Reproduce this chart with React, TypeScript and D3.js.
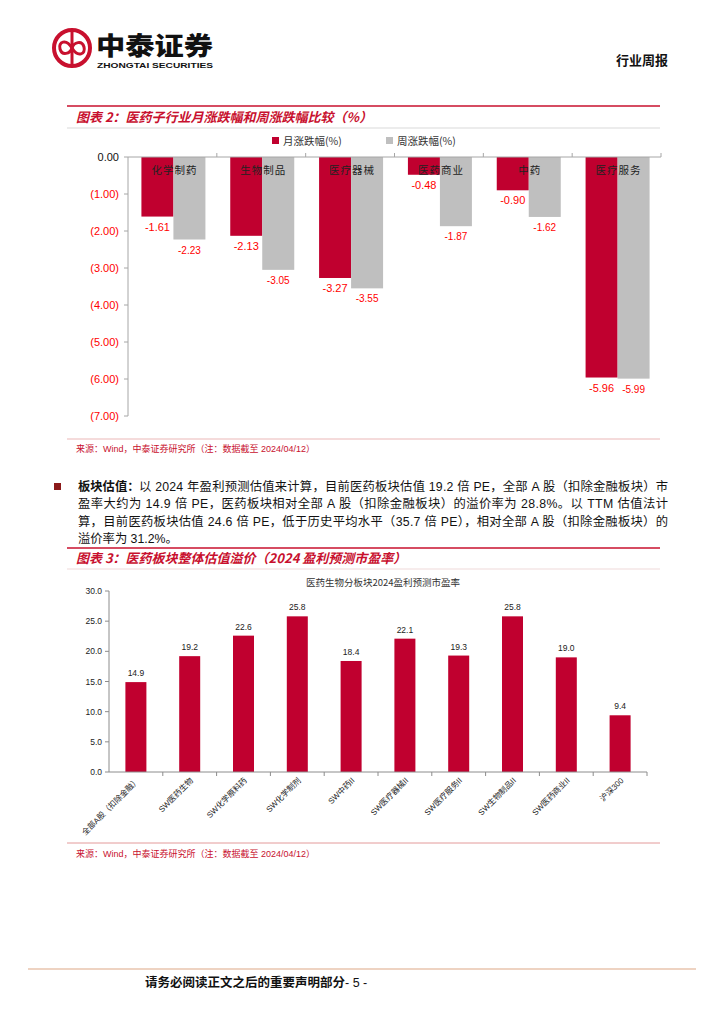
import React from 'react';
import * as d3 from 'd3';

// chart 1: sub-sector monthly / weekly change
const sectors = ['化学制药', '生物制品', '医疗器械', '医药商业', '中药', '医疗服务'];
const monthChg = [-1.61, -2.13, -3.27, -0.48, -0.9, -5.96];
const weekChg = [-2.23, -3.05, -3.55, -1.87, -1.62, -5.99];
const chgTicks = [0, -1, -2, -3, -4, -5, -6, -7];

// chart 2: 2024 forward PE
const peCats = [
  '全部A股（扣除金融）',
  'SW医药生物',
  'SW化学原料药',
  'SW化学制剂',
  'SW中药II',
  'SW医疗器械II',
  'SW医疗服务II',
  'SW生物制品II',
  'SW医药商业II',
  '沪深300',
];
const peVals = [14.9, 19.2, 22.6, 25.8, 18.4, 22.1, 19.3, 25.8, 19.0, 9.4];
const peTicks = [0, 5, 10, 15, 20, 25, 30];

const paraLines = [
  '以 2024 年盈利预测估值来计算，目前医药板块估值 19.2 倍 PE，全部 A 股（扣除金融板块）市',
  '盈率大约为 14.9 倍 PE，医药板块相对全部 A 股（扣除金融板块）的溢价率为 28.8%。以 TTM 估值法计',
  '算，目前医药板块估值 24.6 倍 PE，低于历史平均水平（35.7 倍 PE），相对全部 A 股（扣除金融板块）的',
  '溢价率为 31.2%。',
];

const RED = '#C0002F';
const GREY = '#BFBFBF';
const TITLE_RED = '#C8102E';
const FONT = '"Liberation Sans", Arial, "Noto Sans CJK SC", sans-serif';
const CJK = '"Noto Sans CJK SC", sans-serif';

const fmtNeg = (v: number) => (v === 0 ? '0.00' : `(${Math.abs(v).toFixed(2)})`);

const App: React.FC = () => {
  // chart 1 scales
  const x1 = d3.scaleBand<string>().domain(sectors).range([128, 661]);
  const y1 = d3.scaleLinear().domain([-7, 0]).range([416, 157]);
  const sub = d3.scaleBand<string>().domain(['m', 'w']).range([0, 64]);
  const pairX = (c: string) => (x1(c) || 0) + (x1.bandwidth() - 64) / 2 + 1;

  // chart 2 scales
  const x2 = d3.scaleBand<string>().domain(peCats).range([109, 647]);
  const y2 = d3.scaleLinear().domain([0, 30]).range([772, 591]);
  const bw2 = 21;

  return (
    <div style={{ position: 'absolute', left: 0, top: 0, background: '#fff' }}>
      <svg width={724} height={1024} style={{ display: 'block' }}>
        <rect width={724} height={1024} fill="#fff" />

        {/* header logo */}
        <g>
          <circle cx={72} cy={48} r={18} fill="none" stroke={TITLE_RED} strokeWidth={4} />
          <line x1={72} y1={32} x2={72} y2={64} stroke={TITLE_RED} strokeWidth={3} />
          <path d="M72,48 C66,38 58,42 60,49 C62,56 70,54 72,48 Z" fill="none" stroke={TITLE_RED} strokeWidth={3} />
          <path d="M72,48 C78,58 86,54 84,47 C82,40 74,42 72,48 Z" fill="none" stroke={TITLE_RED} strokeWidth={3} />
          <text x={96} y={55} fontFamily={CJK} fontWeight={900} fontSize={25} fill="#111" textLength={117} lengthAdjust="spacingAndGlyphs">中泰证券</text>
          <text x={97} y={68} fontFamily={FONT} fontWeight={700} fontSize={7.5} fill="#111" textLength={116} lengthAdjust="spacingAndGlyphs">ZHONGTAI SECURITIES</text>
        </g>
        <text x={668} y={65} textAnchor="end" fontFamily={CJK} fontWeight={700} fontSize={13} fill="#111">行业周报</text>

        {/* chart 1 title */}
        <line x1={67} y1={106} x2={660} y2={106} stroke={TITLE_RED} strokeWidth={1.5} />
        <text x={76} y={122} fontFamily={CJK} fontStyle="italic" fontWeight={700} fontSize={13} fill={TITLE_RED}>
          图表 2：医药子行业月涨跌幅和周涨跌幅比较（%）
        </text>
        <line x1={67} y1={128} x2={660} y2={128} stroke="#D9D9D9" strokeWidth={1} />

        {/* legend */}
        <rect x={272} y={137} width={7} height={7} fill={RED} />
        <text x={283} y={145} fontFamily={CJK} fontSize={10.5} fill="#333">月涨跌幅(%)</text>
        <rect x={386} y={137} width={7} height={7} fill={GREY} />
        <text x={397} y={145} fontFamily={CJK} fontSize={10.5} fill="#333">周涨跌幅(%)</text>

        {/* chart 1 bars */}
        {sectors.map((c, i) => {
          const px = pairX(c);
          return (
            <g key={c}>
              <rect x={px + (sub('m') || 0)} y={y1(0)} width={sub.bandwidth()} height={y1(monthChg[i]) - y1(0)} fill={RED} />
              <rect x={px + (sub('w') || 0)} y={y1(0)} width={sub.bandwidth()} height={y1(weekChg[i]) - y1(0)} fill={GREY} />
              <text x={px + (sub('m') || 0) + sub.bandwidth() / 2} y={y1(monthChg[i]) + 14} textAnchor="middle" fontFamily={FONT} fontSize={11} fill="#FF0000">
                {monthChg[i].toFixed(2)}
              </text>
              <text x={px + (sub('w') || 0) + sub.bandwidth() / 2} y={y1(weekChg[i]) + 14} textAnchor="middle" fontFamily={FONT} fontSize={10} fill="#FF0000">
                {weekChg[i].toFixed(2)}
              </text>
              <text x={(x1(c) || 0) + x1.bandwidth() / 2 + 2} y={174} textAnchor="middle" fontFamily={CJK} fontSize={10.5} fill="#222" letterSpacing={1}>
                {c}
              </text>
            </g>
          );
        })}

        {/* chart 1 axes */}
        <line x1={128} y1={y1(0)} x2={661} y2={y1(0)} stroke="#A6A6A6" strokeWidth={1} />
        {sectors.map((c) => (
          <line key={c} x1={(x1(c) || 0) + x1.bandwidth()} y1={y1(0)} x2={(x1(c) || 0) + x1.bandwidth()} y2={y1(0) - 4} stroke="#A6A6A6" />
        ))}
        <line x1={128} y1={y1(0)} x2={128} y2={y1(-7)} stroke="#A6A6A6" strokeWidth={1} />
        {chgTicks.map((t) => (
          <g key={t}>
            <line x1={124} y1={y1(t)} x2={128} y2={y1(t)} stroke="#A6A6A6" />
            <text x={119} y={y1(t) + 4} textAnchor="end" fontFamily={FONT} fontSize={11} fill={t === 0 ? '#111' : '#FF0000'}>
              {fmtNeg(t)}
            </text>
          </g>
        ))}

        {/* chart 1 source */}
        <line x1={67} y1={439} x2={660} y2={439} stroke="#EBB7B7" strokeWidth={1} />
        <text x={76} y={452} fontFamily={FONT} fontSize={9} fill={TITLE_RED}>
          来源：Wind，中泰证券研究所（注：数据截至 2024/04/12）
        </text>

        {/* paragraph */}
        <rect x={54} y={483} width={7} height={7} fill="#8B1A1A" />
        {paraLines.map((ln, i) => {
          const lead = i === 0 ? 61 : 0;
          return (
            <text
              key={i}
              x={78 + lead}
              y={491 + i * 17.4}
              fontFamily={FONT}
              fontSize={12.3}
              fill="#111"
              textLength={i < 3 ? 590 - lead : undefined}
              lengthAdjust="spacing"
            >
              {ln}
            </text>
          );
        })}
        <text x={78} y={491} fontFamily={CJK} fontWeight={700} fontSize={12.3} fill="#111">板块估值：</text>

        {/* chart 2 title */}
        <line x1={67} y1={548} x2={660} y2={548} stroke={TITLE_RED} strokeWidth={1.5} />
        <text x={76} y={563} fontFamily={CJK} fontStyle="italic" fontWeight={700} fontSize={13} fill={TITLE_RED}>
          图表 3：医药板块整体估值溢价（2024 盈利预测市盈率）
        </text>
        <line x1={67} y1={569} x2={660} y2={569} stroke="#EFD9D9" strokeWidth={1} />

        <text x={383} y={586} textAnchor="middle" fontFamily={CJK} fontSize={9.5} fill="#333">
          医药生物分板块2024盈利预测市盈率
        </text>

        {/* chart 2 bars */}
        {peCats.map((c, i) => {
          const cx = (x2(c) || 0) + x2.bandwidth() / 2;
          return (
            <g key={c}>
              <rect x={cx - bw2 / 2} y={y2(peVals[i])} width={bw2} height={y2(0) - y2(peVals[i])} fill={RED} />
              <text x={cx} y={y2(peVals[i]) - 6} textAnchor="middle" fontFamily={FONT} fontSize={8.5} fill="#222">
                {peVals[i].toFixed(1)}
              </text>
              <text
                transform={`translate(${cx + 4},${y2(0) + 9}) rotate(-45)`}
                textAnchor="end"
                fontFamily={FONT}
                fontSize={8}
                fill="#222"
              >
                {c}
              </text>
            </g>
          );
        })}

        {/* chart 2 axes */}
        <line x1={109} y1={y2(0)} x2={647} y2={y2(0)} stroke="#8C8C8C" />
        {peCats.map((c) => (
          <line key={c} x1={(x2(c) || 0) + x2.bandwidth()} y1={y2(0)} x2={(x2(c) || 0) + x2.bandwidth()} y2={y2(0) + 4} stroke="#8C8C8C" />
        ))}
        <line x1={109} y1={y2(0)} x2={109} y2={y2(30)} stroke="#8C8C8C" />
        {peTicks.map((t) => (
          <g key={t}>
            <line x1={105} y1={y2(t)} x2={109} y2={y2(t)} stroke="#8C8C8C" />
            <text x={102} y={y2(t) + 3} textAnchor="end" fontFamily={FONT} fontSize={8.5} fill="#222">
              {t.toFixed(1)}
            </text>
          </g>
        ))}

        {/* chart 2 source */}
        <line x1={67} y1={843} x2={660} y2={843} stroke="#E39A9A" strokeWidth={1} />
        <text x={76} y={857} fontFamily={FONT} fontSize={9} fill={TITLE_RED}>
          来源：Wind，中泰证券研究所（注：数据截至 2024/04/12）
        </text>

        {/* footer */}
        <line x1={28} y1={969} x2={696} y2={969} stroke="#E8C4AE" strokeWidth={1.5} />
        <text x={145} y={987} fontFamily={CJK} fontWeight={700} fontSize={12.5} fill="#111">
          请务必阅读正文之后的重要声明部分
          <tspan fontFamily={FONT} fontWeight={400}>- 5 -</tspan>
        </text>
      </svg>
    </div>
  );
};

export default App;
